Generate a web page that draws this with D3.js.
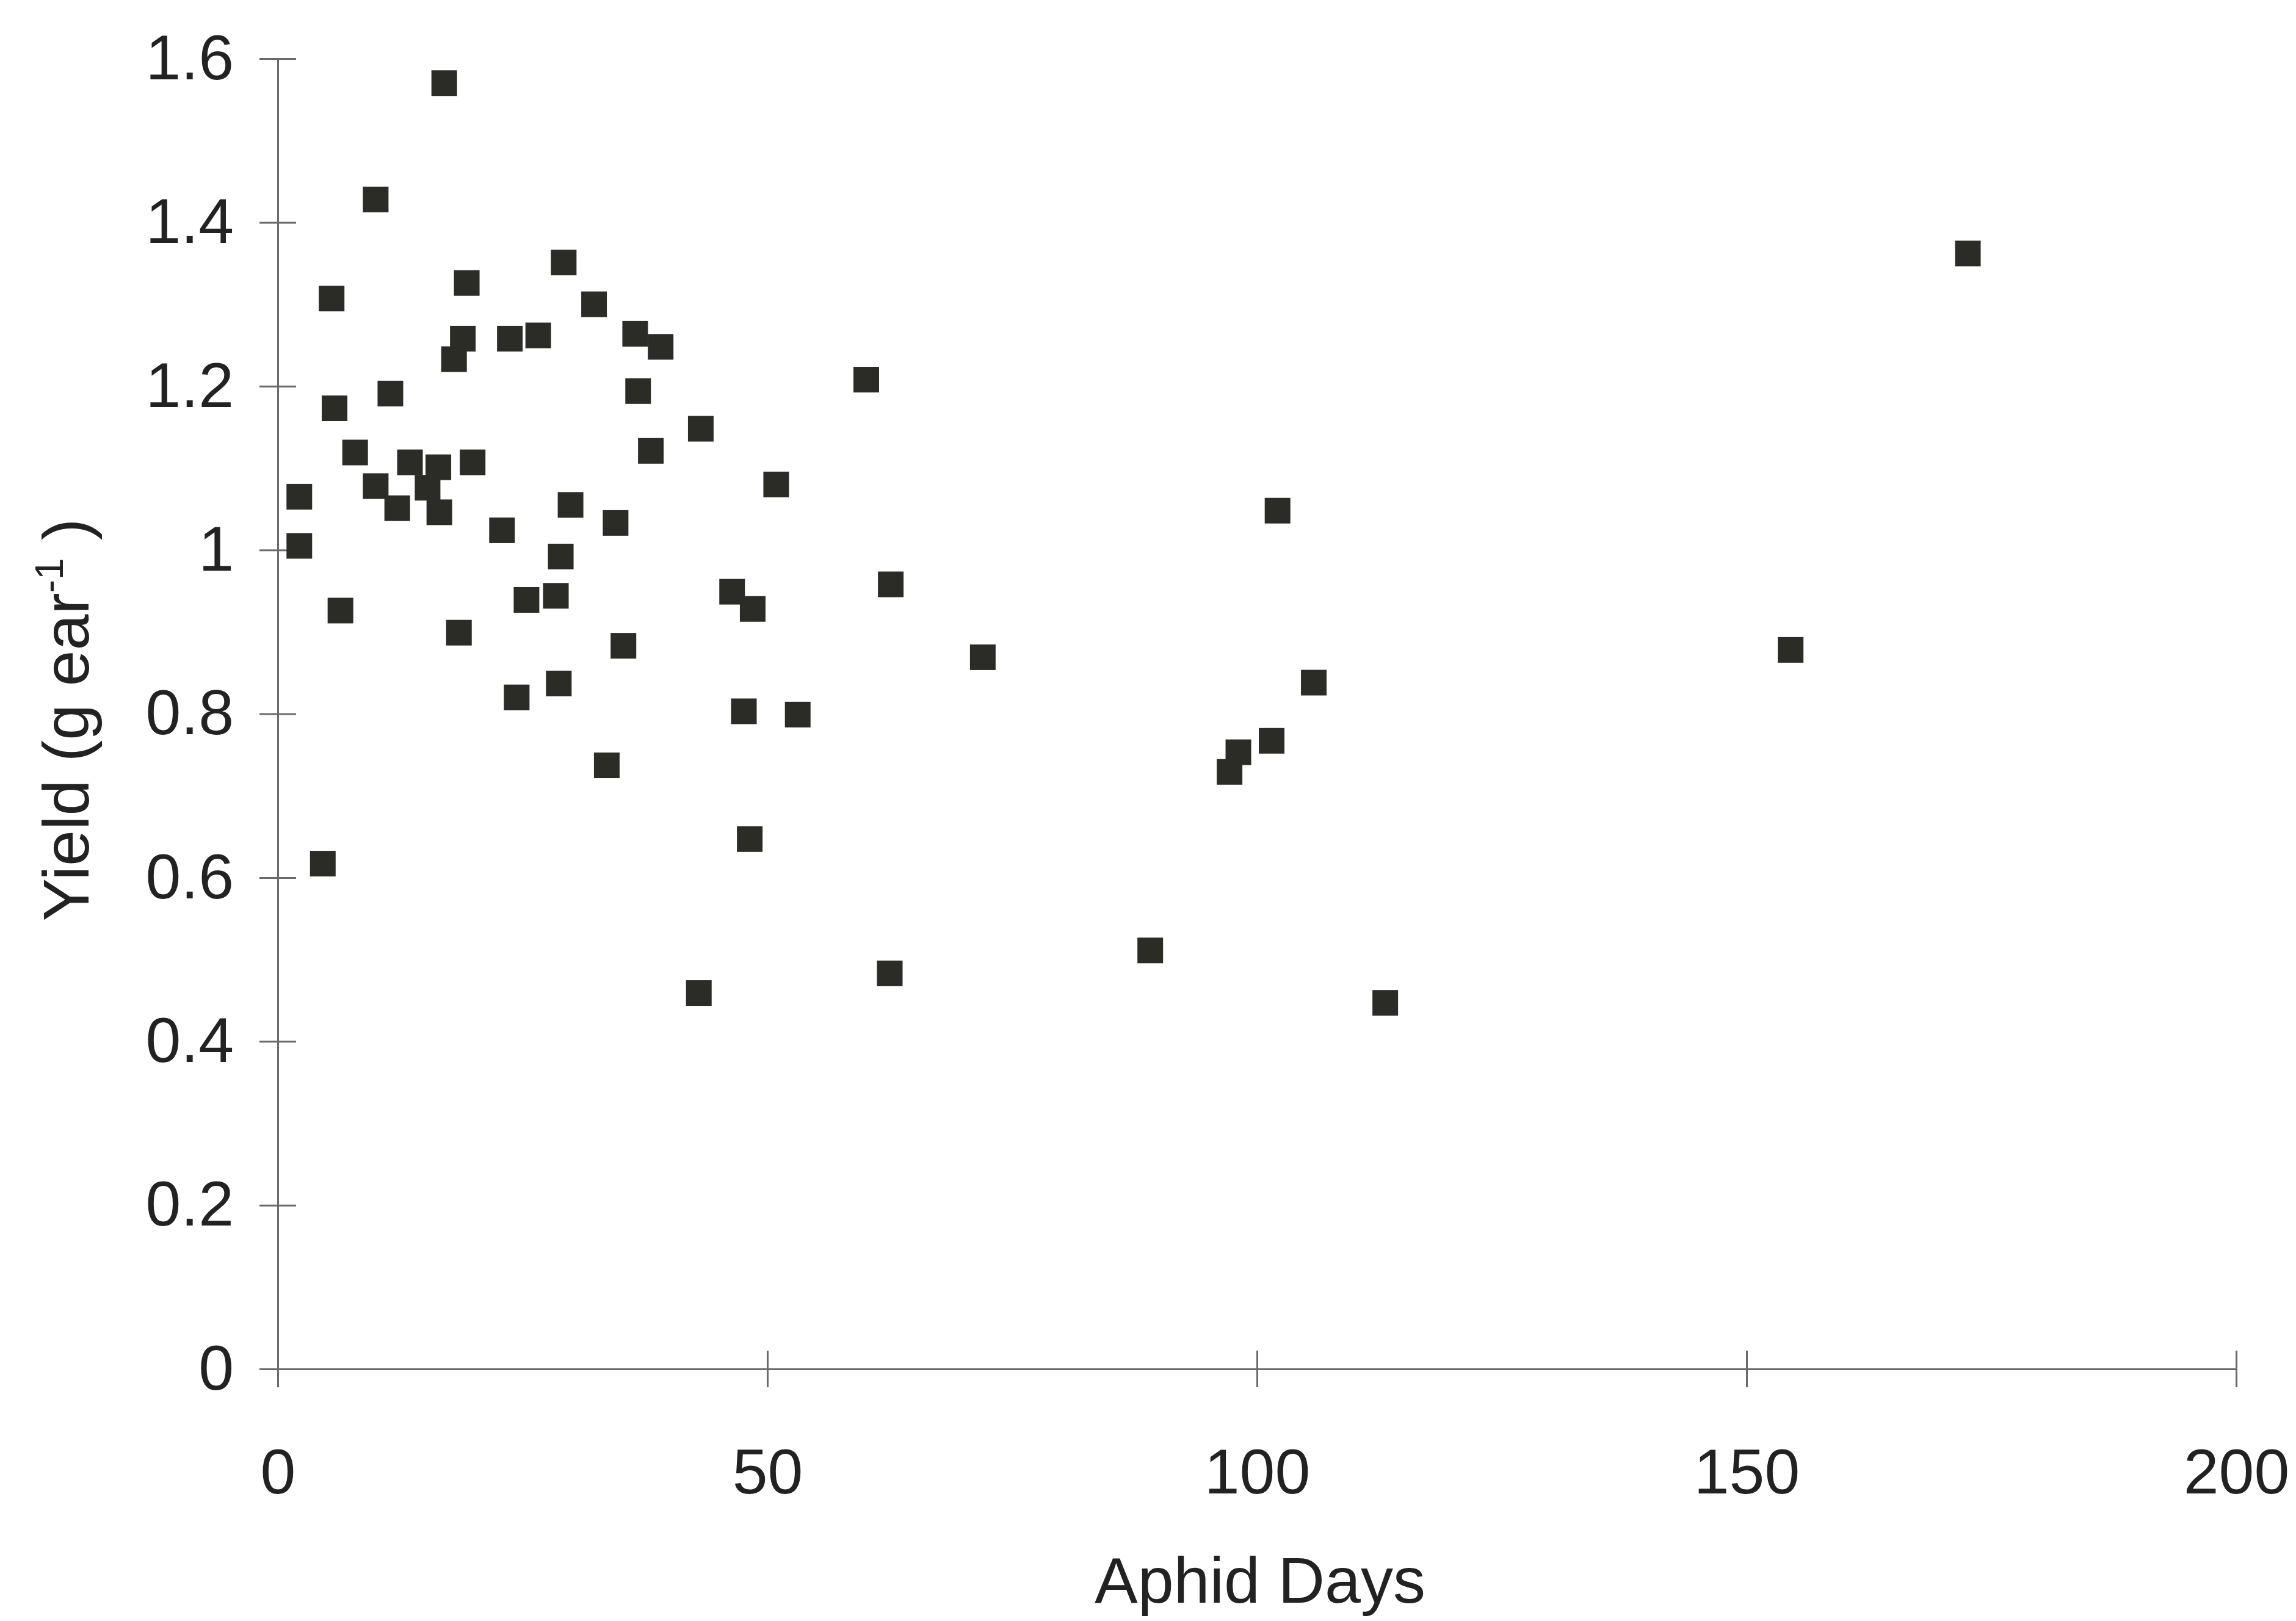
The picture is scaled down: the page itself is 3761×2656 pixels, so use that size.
<!DOCTYPE html>
<html>
<head>
<meta charset="utf-8">
<script src="https://cdn.jsdelivr.net/npm/d3@7"></script>
<style>
  html, body { margin: 0; padding: 0; background: #fff; }
  text { font-family: "Liberation Sans", Arial, sans-serif; fill: #222; }
</style>
</head>
<body>
<div id="chart"></div>
<script>
// aphid days vs yield
const aphidDays = [
  17.0, 10.0, 5.5, 5.8, 2.2, 2.2, 6.4, 4.6, 7.9, 10.0,
  11.5, 12.2, 13.5, 15.3, 16.4, 16.5, 18.0, 18.9, 19.3, 19.9,
  18.5, 22.9, 23.7, 26.6, 24.4, 25.4, 28.4, 28.9, 28.7, 29.2,
  29.9, 32.3, 34.5, 33.6, 35.3, 36.5, 36.8, 38.1, 39.1, 43.2,
  43.0, 46.4, 48.5, 47.6, 48.2, 50.9, 53.1, 60.1, 62.6, 62.5,
  72.0, 89.1, 97.2, 98.1, 101.5, 102.1, 105.8, 113.1, 154.5, 172.6
];
const yieldPerEar = [
  1.570, 1.428, 1.307, 1.173, 1.065, 1.005, 0.926, 0.617, 1.119, 1.078,
  1.191, 1.051, 1.107, 1.076, 1.101, 1.046, 1.233, 1.258, 1.326, 1.107,
  0.899, 1.024, 1.258, 1.262, 0.820, 0.939, 0.944, 0.992, 0.837, 1.351,
  1.055, 1.300, 1.033, 0.737, 0.883, 1.264, 1.194, 1.121, 1.248, 1.148,
  0.459, 0.949, 0.928, 0.803, 0.647, 1.080, 0.799, 1.208, 0.958, 0.483,
  0.869, 0.511, 0.729, 0.753, 0.767, 1.048, 0.838, 0.447, 0.878, 1.362
];
const xTicks = [0, 50, 100, 150, 200];
const yTicks = [0, 0.2, 0.4, 0.6, 0.8, 1, 1.2, 1.4, 1.6];

const W = 3761, H = 2656;
const margin = { left: 455, right: 3663, top: 96, bottom: 2243 };

const svg = d3.select("#chart").append("svg")
  .attr("width", W)
  .attr("height", H);

svg.append("rect").attr("width", W).attr("height", H).attr("fill", "#fff");

const x = d3.scaleLinear().domain([0, 200]).range([margin.left, margin.right]);
const y = d3.scaleLinear().domain([0, 1.6]).range([margin.bottom, margin.top]);

const fmt = d3.format("~g");

// y axis, ticks cross the line
const yAxis = svg.append("g")
  .attr("transform", `translate(${margin.left},0)`)
  .call(d3.axisLeft(y).tickValues(yTicks).tickFormat(fmt).tickSize(30).tickPadding(42));

// x axis
const xAxis = svg.append("g")
  .attr("transform", `translate(0,${margin.bottom})`)
  .call(d3.axisBottom(x).tickValues(xTicks).tickFormat(fmt).tickSize(30).tickPadding(100));

yAxis.selectAll(".tick line").attr("x1", 30);
xAxis.selectAll(".tick line").attr("y1", -30);

[yAxis, xAxis].forEach(g => {
  g.select(".domain").attr("stroke", "#6a6a6a").attr("stroke-width", 3);
  g.selectAll(".tick line").attr("stroke", "#6a6a6a").attr("stroke-width", 3);
  g.selectAll(".tick text")
   .attr("font-size", 104)
   .attr("fill", "#222")
   .style("font-family", "'Liberation Sans', Arial, sans-serif");
});

// axis titles
svg.append("text")
  .attr("x", (margin.left + margin.right) / 2 + 5)
  .attr("y", 2626)
  .attr("text-anchor", "middle")
  .attr("font-size", 106)
  .text("Aphid Days");

const yTitle = svg.append("text")
  .attr("transform", `translate(145,${(margin.top + margin.bottom) / 2 + 10}) rotate(-90)`)
  .attr("text-anchor", "middle")
  .attr("font-size", 106);
yTitle.append("tspan").text("Yield (g ear");
yTitle.append("tspan").attr("font-size", 64).attr("dy", -42).text("-1");
yTitle.append("tspan").attr("dy", 42).text(" )");

// markers
const size = 42;
const pts = aphidDays.map((d, i) => ({ x: d, y: yieldPerEar[i] }));
svg.append("g")
  .selectAll("rect")
  .data(pts)
  .enter()
  .append("rect")
  .attr("x", d => x(d.x) - size / 2)
  .attr("y", d => y(d.y) - size / 2)
  .attr("width", size)
  .attr("height", size)
  .attr("fill", "#2c2c26");
</script>
</body>
</html>
